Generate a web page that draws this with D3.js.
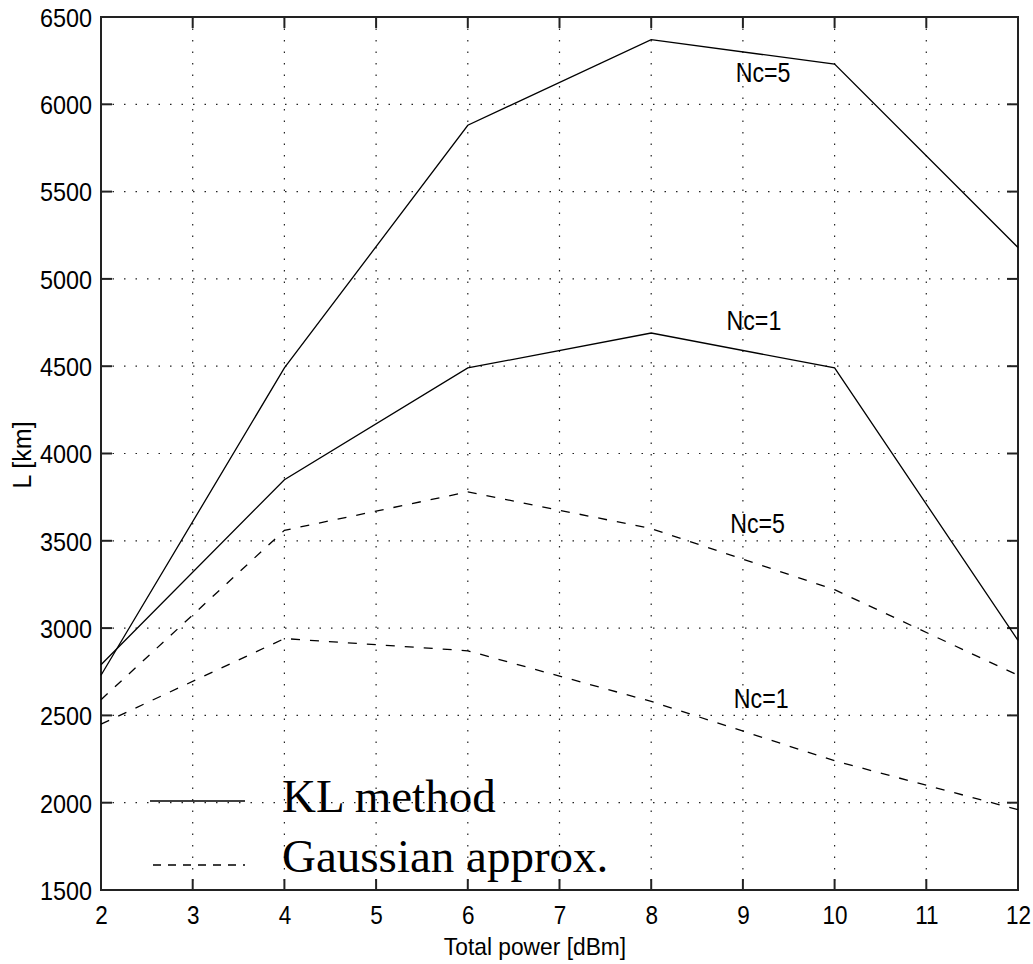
<!DOCTYPE html>
<html><head><meta charset="utf-8">
<script src="https://cdn.jsdelivr.net/npm/d3@7"></script>
<style>body{margin:0;background:#fff}svg{display:block}</style>
</head><body>
<svg id="c" width="1033" height="964"></svg>
<script>
const power = [2, 4, 6, 8, 10, 12];
const klNc5 = [2730, 4490, 5880, 6370, 6230, 5180];
const klNc1 = [2790, 3850, 4490, 4690, 4490, 2930];
const gaNc5 = [2590, 3560, 3780, 3570, 3220, 2730];
const gaNc1 = [2450, 2940, 2870, 2580, 2240, 1960];
const xTicks = [2, 3, 4, 5, 6, 7, 8, 9, 10, 11, 12];
const yTicks = [1500, 2000, 2500, 3000, 3500, 4000, 4500, 5000, 5500, 6000, 6500];
const curveLabels = ["Nc=5", "Nc=1", "Nc=5", "Nc=1"];
const labelX = [9.22, 9.12, 9.16, 9.2];
const labelY = [6125, 4705, 3545, 2542];
const legendNames = ["KL method", "Gaussian approx."];

const svg = d3.select("#c");
const L = 101, R = 1018, T = 17, B = 890;
const x = d3.scaleLinear().domain([2, 12]).range([L, R]);
const y = d3.scaleLinear().domain([1500, 6500]).range([B, T]);
const tickFont = "'Liberation Sans', Arial, sans-serif";

// grid
const g = svg.append("g");
g.selectAll(".gx").data(xTicks.slice(1, -1)).enter().append("line")
  .attr("x1", d => x(d)).attr("x2", d => x(d)).attr("y1", T).attr("y2", B)
  .attr("stroke", "#222").attr("stroke-width", 1.2).attr("stroke-dasharray", "1.5,10");
g.selectAll(".gy").data(yTicks.slice(1, -1)).enter().append("line")
  .attr("y1", d => y(d)).attr("y2", d => y(d)).attr("x1", L).attr("x2", R)
  .attr("stroke", "#222").attr("stroke-width", 1.2).attr("stroke-dasharray", "1.5,10");

// axes
const ax = d3.axisBottom(x).tickValues(xTicks).tickSize(0).tickFormat(d3.format("d"));
const ay = d3.axisLeft(y).tickValues(yTicks).tickSize(0).tickPadding(10).tickFormat(d3.format("d"));
const gxA = svg.append("g").attr("transform", `translate(0,${B})`).call(ax);
const gyA = svg.append("g").attr("transform", `translate(${L},0)`).call(ay);
[gxA, gyA].forEach(a => {
  a.select(".domain").remove();
  a.selectAll("text").attr("font-family", tickFont).attr("fill", "#000")
    .attr("transform", "scale(0.9,1)");
});
gxA.selectAll("text").attr("font-size", 25).attr("y", 34).attr("dy", 0);
gyA.selectAll("text").attr("font-size", 26).attr("dy", "0.36em");

// inner ticks on all sides
const tk = svg.append("g").attr("stroke", "#222").attr("stroke-width", 2);
xTicks.forEach(d => {
  tk.append("line").attr("x1", x(d)).attr("x2", x(d)).attr("y1", B).attr("y2", B - 11);
  tk.append("line").attr("x1", x(d)).attr("x2", x(d)).attr("y1", T).attr("y2", T + 11);
});
yTicks.forEach(d => {
  tk.append("line").attr("y1", y(d)).attr("y2", y(d)).attr("x1", L).attr("x2", L + 11);
  tk.append("line").attr("y1", y(d)).attr("y2", y(d)).attr("x1", R).attr("x2", R - 11);
});
svg.append("rect").attr("x", L).attr("y", T).attr("width", R - L).attr("height", B - T)
  .attr("fill", "none").attr("stroke", "#222").attr("stroke-width", 2);

// series
const line = d3.line().x((d, i) => x(power[i])).y(d => y(d));
const series = [[klNc5, null], [klNc1, null], [gaNc5, "9,10"], [gaNc1, "9,10"]];
series.forEach(([vals, dash]) => {
  svg.append("path").datum(vals).attr("d", line).attr("fill", "none")
    .attr("stroke", "#000").attr("stroke-width", 1.3)
    .attr("stroke-dasharray", dash);
});

// curve labels
curveLabels.forEach((t, i) => {
  svg.append("text")
    .attr("transform", `translate(${x(labelX[i])},${y(labelY[i])}) scale(0.86,1)`)
    .attr("text-anchor", "middle").attr("font-family", tickFont).attr("font-size", 27)
    .text(t);
});

// axis titles
svg.append("text").attr("transform", "translate(535,955) scale(0.95,1)").attr("text-anchor", "middle")
  .attr("font-family", tickFont).attr("font-size", 24).text("Total power [dBm]");
svg.append("text").attr("transform", "translate(31,455) rotate(-90)").attr("text-anchor", "middle")
  .attr("font-family", tickFont).attr("font-size", 25).text("L [km]");

// legend
const lg = svg.append("g");
lg.append("line").attr("x1", 150).attr("x2", 245).attr("y1", 801).attr("y2", 801)
  .attr("stroke", "#000").attr("stroke-width", 1.5);
lg.append("line").attr("x1", 153).attr("x2", 245).attr("y1", 865).attr("y2", 865)
  .attr("stroke", "#000").attr("stroke-width", 1.5).attr("stroke-dasharray", "8,7");
legendNames.forEach((t, i) => {
  lg.append("text").attr("x", 282).attr("y", [812, 872][i])
    .attr("font-family", "'Liberation Serif', 'Times New Roman', serif").attr("font-size", 47)
    .text(t);
});
</script>
</body></html>
